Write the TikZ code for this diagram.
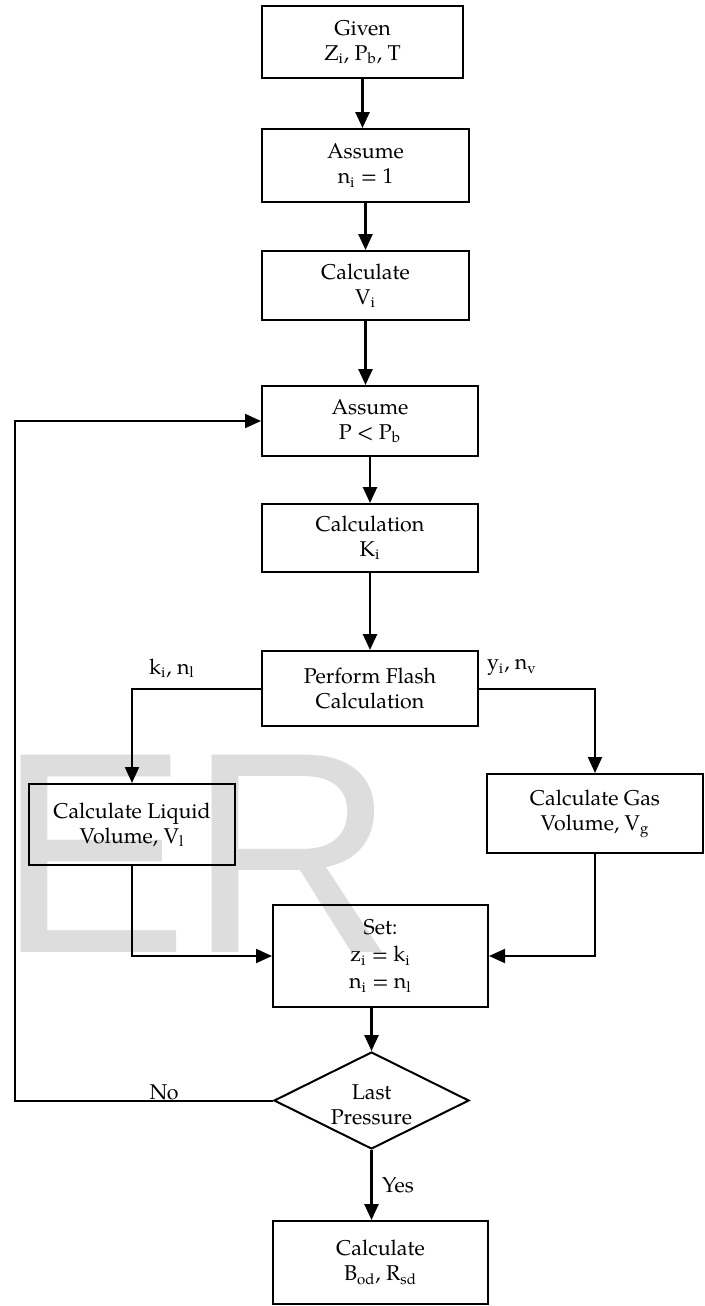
\documentclass[tikz,border=0pt]{standalone}
\usepackage{fontspec}
\setmainfont{TeX Gyre Pagella}
\newfontfamily\wmfont{Liberation Sans}
\usetikzlibrary{arrows.meta,shapes.geometric}
\definecolor{wm}{RGB}{221,221,221}
\begin{document}
\begin{tikzpicture}[x=0.5pt,y=-0.5pt,
  txt/.style={font=\fontsize{10.7}{12.5}\selectfont},
  box/.style={draw, line width=1pt, rectangle, align=center, inner sep=0pt, txt},
  arr/.style={line width=1.3pt, -{Triangle[width=7pt,length=8pt]}},
  thinarr/.style={line width=1pt, -{Triangle[width=7pt,length=8pt]}},
  lbl/.style={txt, inner sep=0pt}]
\useasboundingbox (0,0) rectangle (705,1306);
% watermark
\node[anchor=base west, inner sep=0pt, text=wm, font=\wmfont\fontsize{143.5}{150}\selectfont] (wmark) at (-3,952) {ER};
% boxes
\node[box, minimum width=100.5pt, minimum height=36pt] (given) at (362.5,42) {Given\\Z\textsubscript{i}, P\textsubscript{b}, T};
\node[box, minimum width=103.5pt, minimum height=36.5pt] (assume1) at (365.5,165.5) {Assume\\n\textsubscript{i} = 1};
\node[box, minimum width=103.5pt, minimum height=34.5pt] (calcv) at (365.5,285.5) {Calculate\\V\textsubscript{i}};
\node[box, minimum width=108pt, minimum height=35pt] (assume2) at (370,421) {Assume\\P < P\textsubscript{b}};
\node[box, minimum width=108pt, minimum height=34pt] (calck) at (370,538) {Calculation\\K\textsubscript{i}};
\node[box, minimum width=108pt, minimum height=37.5pt] (flash) at (370,688.5) {Perform Flash\\Calculation};
\node[box, minimum width=103pt, minimum height=40.5pt] (liquid) at (132,824.5) {Calculate Liquid\\Volume, V\textsubscript{l}};
\node[box, minimum width=108pt, minimum height=39.5pt] (gas) at (595,813.5) {Calculate Gas\\Volume, V\textsubscript{g}};
\node[box, minimum width=107.5pt, minimum height=51pt, font=\fontsize{10.7}{13.5}\selectfont] (set) at (380.5,956) {Set:\\z\textsubscript{i} = k\textsubscript{i}\\n\textsubscript{i} = n\textsubscript{l}};
\node[diamond, draw, line width=1pt, minimum width=97.5pt, minimum height=48.5pt, inner sep=0pt] (dec) at (371.5,1100.5) {};
\node[lbl, align=center] (dectext) at (371.5,1105) {Last\\Pressure};
\node[box, minimum width=107.5pt, minimum height=41.5pt] (final) at (380.5,1262.5) {Calculate\\B\textsubscript{od}, R\textsubscript{sd}};
% connectors
\draw[arr] (given.south) -- (given.south |- assume1.north);
\draw[arr] (assume1.south) -- (assume1.south |- calcv.north);
\draw[arr] (calcv.south) -- (calcv.south |- assume2.north);
\draw[arr] (assume2.south) -- (calck.north);
\draw[arr] (calck.south) -- (flash.north);
\draw[thinarr] (flash.west) -| (liquid.north);
\draw[thinarr] (flash.east) -| (gas.north);
\draw[thinarr] (liquid.south) |- (set.west);
\draw[thinarr] (gas.south) |- (set.east);
\draw[arr] (set.south -| dec.north) -- (dec.north);
\draw[arr] (dec.south) -- (dec.south |- final.north);
\coordinate (loop) at (15,700);
\draw[thinarr] (dec.west) -- (dec.west -| loop) -- (loop |- assume2.west) -- (assume2.west);
% labels
\node[lbl] (lk) at (172,668) {k\textsubscript{i}, n\textsubscript{l}};
\node[lbl] (ly) at (512,668) {y\textsubscript{i}, n\textsubscript{v}};
\node[lbl, anchor=base] (lno) at (164,1099) {No};
\node[lbl] (lyes) at (398,1185) {Yes};
\end{tikzpicture}
\end{document}
